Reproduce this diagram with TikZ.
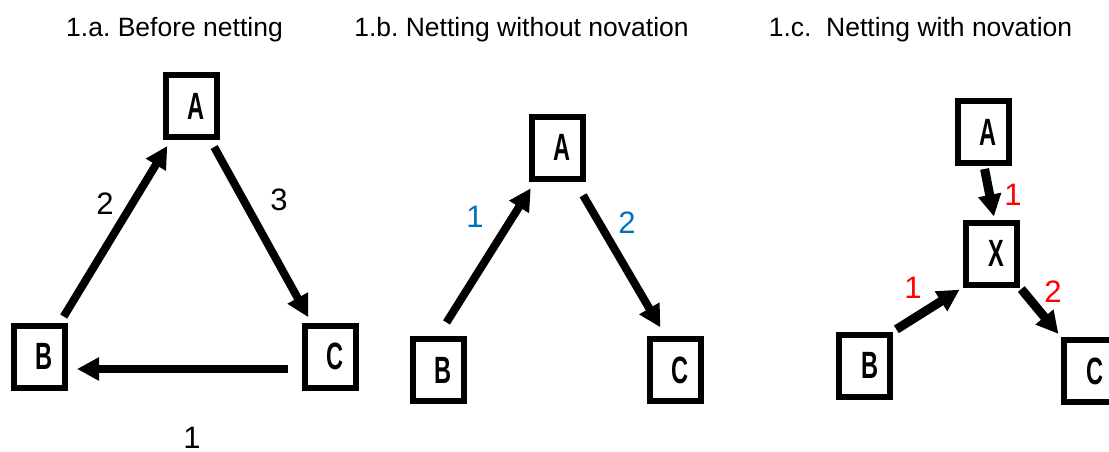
\documentclass[tikz,border=0pt]{standalone}
\usepackage{fontspec}
\setmainfont{Liberation Sans}
\newfontfamily\letterfont[FakeStretch=0.62]{Liberation Sans}
\usetikzlibrary{arrows.meta}
\definecolor{amountblue}{RGB}{0,112,192}
\tikzset{
    party/.style={draw, line width=6pt, minimum width=51pt, minimum height=62pt, inner sep=0pt,
        font=\letterfont\bfseries\fontsize{38}{38}\selectfont, execute at begin node={\hspace*{10pt}}},
    flow/.style={line width=8pt, -{Triangle[length=22pt,width=22pt]}},
    heading/.style={anchor=base, font=\fontsize{26.5}{30}\selectfont},
    amount/.style={font=\fontsize{31}{31}\selectfont}
}
\begin{document}
\frenchspacing
\begin{tikzpicture}[x=1pt, y=-1pt]
    \useasboundingbox (0,0) rectangle (1109,452);

    \node[heading] at (174.5,37)   (Ta) {1.a. Before netting};
    \node[heading] at (521.5,37)   (Tb) {1.b. Netting without novation};
    \node[heading] at (920.5,37)   (Tc) {1.c.\ \ Netting with novation};

    \node[party] at (191.5,106)    (A1) {A};
    \node[party] at (39.5,356.5)   (B1) {B};
    \node[party] at (330,356.5)    (C1) {C};

    \draw[flow, shorten <=7pt, shorten >=7pt] (B1) -- (A1);
    \draw[flow, shorten <=8pt, shorten >=6pt] (A1) -- (C1);
    \draw[flow, shorten <=14pt, shorten >=9pt] ([yshift=-12.5pt]C1.west) -- ([yshift=-12.5pt]B1.east);

    \node[amount] at (105,204)     (BA1) {2};
    \node[amount] at (279,200)     (AC1) {3};
    \node[amount] at (192,438)     (CB1) {1};

    \node[party] at (557.5,147.5)  (A2) {A};
    \node[party] at (438,370)      (B2) {B};
    \node[party] at (675.5,370)    (C2) {C};

    \draw[flow, shorten <=16pt, shorten >=8pt] (B2.north) -- ([xshift=6pt]A2.south west);
    \draw[flow, shorten <=16pt, shorten >=10pt] ([xshift=-11pt]A2.south east) -- ([xshift=-10pt]C2.north);

    \node[amount, amountblue] at (475,217) (BA2) {1};
    \node[amount, amountblue] at (627,223) (AC2) {2};

    \node[party] at (983,132)      (A3) {A};
    \node[party] at (991.5,253.5)  (X3) {X};
    \node[party] at (864.5,365.5)  (B3) {B};
    \node[party] at (1089.5,371)   (C3) {C};

    \draw[flow, line width=9pt, shorten <=3pt, shorten >=3pt] ([xshift=1pt]A3.south) -- ([xshift=3pt]X3.north);
    \draw[flow, line width=9pt, shorten <=4pt, shorten >=4pt] (B3.north east) -- (X3.south west);
    \draw[flow, line width=9pt, shorten <=2pt, shorten >=4pt] (X3.south east) -- (C3.north west);

    \node[amount, red] at (1013,195) (AX3) {1};
    \node[amount, red] at (913,288)  (BX3) {1};
    \node[amount, red] at (1053,292) (XC3) {2};
\end{tikzpicture}
\end{document}
